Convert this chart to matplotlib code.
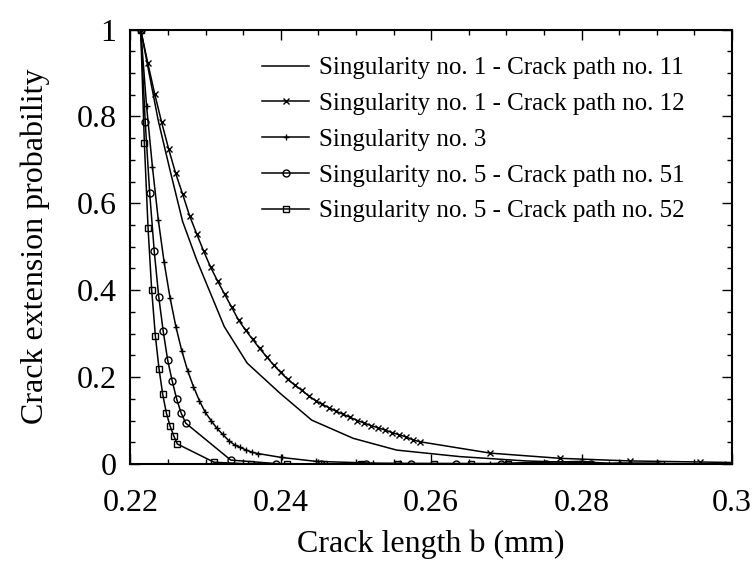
import matplotlib
matplotlib.use("Agg")
import matplotlib.pyplot as plt
from matplotlib.ticker import MultipleLocator, FormatStrFormatter

# ===================== Data =====================
# Singularity no. 1 - Crack path no. 11 (plain line)
x_11 = [0.22136, 0.2237, 0.22525, 0.22694, 0.2288, 0.23248, 0.23553, 0.23988,
        0.2441, 0.24963, 0.2554, 0.2638, 0.2726, 0.2820, 0.2913, 0.3006]
y_11 = [1.0, 0.79, 0.677, 0.558, 0.47, 0.316, 0.232, 0.163,
        0.101, 0.059, 0.032, 0.017, 0.007, 0.002, 0.0005, 0.0]

# Singularity no. 1 - Crack path no. 12 (x markers)
x_12 = [0.22136, 0.22229, 0.22322, 0.22415, 0.22508, 0.22601, 0.22694, 0.22787,
        0.22880, 0.22973, 0.23066, 0.23159, 0.23252, 0.23345, 0.23438, 0.23531,
        0.23624, 0.23717, 0.23810, 0.23903, 0.23996, 0.24089, 0.24182, 0.24275,
        0.24368, 0.24461, 0.24554, 0.24647, 0.24740, 0.24833, 0.24926, 0.25019,
        0.25112, 0.25205, 0.25298, 0.25391, 0.25484, 0.25577, 0.25670, 0.25763,
        0.25856, 0.26786, 0.27716, 0.28646, 0.29576, 0.30506]
y_12 = [1.0, 0.924, 0.852, 0.786, 0.725, 0.669, 0.621, 0.571,
        0.530, 0.490, 0.453, 0.421, 0.391, 0.361, 0.331, 0.308,
        0.287, 0.266, 0.247, 0.228, 0.211, 0.195, 0.182, 0.170,
        0.157, 0.146, 0.137, 0.129, 0.121, 0.114, 0.107, 0.100,
        0.094, 0.088, 0.083, 0.078, 0.072, 0.067, 0.062, 0.055,
        0.051, 0.025, 0.013, 0.007, 0.0046, 0.002]

# Singularity no. 3 (+ markers)
x_3 = [0.22136, 0.22214, 0.22292, 0.22370, 0.22448, 0.22526, 0.22604, 0.22682,
       0.22760, 0.22838, 0.22916, 0.22994, 0.23072, 0.23150, 0.23228, 0.23306,
       0.23384, 0.23462, 0.23540, 0.23618, 0.23696,
       0.2401, 0.2447, 0.2523, 0.2559, 0.2678, 0.2800, 0.2836, 0.2851,
       0.2902, 0.2909, 0.2991]
y_3 = [1.0, 0.824, 0.684, 0.562, 0.464, 0.383, 0.316, 0.261,
       0.215, 0.178, 0.146, 0.119, 0.100, 0.082, 0.068, 0.054,
       0.044, 0.038, 0.032, 0.027, 0.024,
       0.015, 0.006, 0.002, 0.0015, 0.001, 0.006, 0.001, 0.002,
       0.002, 0.001, 0.0]

# Singularity no. 5 - Crack path no. 51 (circles)
x_51 = [0.22136, 0.22196, 0.22256, 0.22316, 0.22376, 0.22436, 0.22495, 0.22555,
        0.22615, 0.22675, 0.22735, 0.23334, 0.23933, 0.24532, 0.25131, 0.25730,
        0.26329, 0.26928, 0.27527, 0.28126]
y_51 = [1.0, 0.788, 0.623, 0.490, 0.385, 0.305, 0.239, 0.191,
        0.149, 0.117, 0.094, 0.009, 0.001, 0.0, 0.0, 0.0,
        0.0, 0.0, 0.0, 0.0]

# Singularity no. 5 - Crack path no. 52 (squares)
x_52 = [0.22136, 0.22185, 0.22234, 0.22282, 0.22331, 0.22380, 0.22429, 0.22478,
        0.22526, 0.22575, 0.22624, 0.23112, 0.23600, 0.24088, 0.24576, 0.25064,
        0.25552, 0.26040, 0.26528, 0.27016]
y_52 = [1.0, 0.738, 0.543, 0.401, 0.295, 0.219, 0.160, 0.117,
        0.088, 0.065, 0.046, 0.004, 0.0, 0.0, 0.0, 0.0,
        0.0, 0.0, 0.0, 0.0]

labels = ["Singularity no. 1 - Crack path no. 11",
          "Singularity no. 1 - Crack path no. 12",
          "Singularity no. 3",
          "Singularity no. 5 - Crack path no. 51",
          "Singularity no. 5 - Crack path no. 52"]

# ===================== Plotting =====================
plt.rcParams.update({
    'font.family': ['Liberation Serif', 'DejaVu Serif'],
    'mathtext.fontset': 'stix',
})

fig = plt.figure(figsize=(7.55, 5.62), dpi=100)
ax = fig.add_axes([0.1728, 0.1744, 0.7967, 0.7731])

style = dict(color='black', linewidth=1.1, markersize=5, markeredgewidth=1.0,
             markerfacecolor='none')
ax.plot(x_11, y_11, label=labels[0], **style)
ax.plot(x_12, y_12, marker='x', label=labels[1], **style)
ax.plot(x_3, y_3, marker='+', label=labels[2], **style)
ax.plot(x_51, y_51, marker='o', label=labels[3], **style)
ax.plot(x_52, y_52, marker='s', label=labels[4], **style)

ax.set_xlim(0.22, 0.30)
ax.set_ylim(0, 1)

ax.xaxis.set_major_locator(MultipleLocator(0.02))
ax.xaxis.set_minor_locator(MultipleLocator(0.005))
ax.yaxis.set_major_locator(MultipleLocator(0.2))
ax.yaxis.set_minor_locator(MultipleLocator(0.05))
ax.xaxis.set_major_formatter(FormatStrFormatter('%g'))
ax.yaxis.set_major_formatter(FormatStrFormatter('%g'))

ax.tick_params(which='both', direction='in', top=True, right=True,
               labelsize=23, width=1.0)
ax.tick_params(axis='x', which='major', pad=18)
ax.tick_params(axis='y', which='major', pad=10)
ax.tick_params(which='major', length=7)
ax.tick_params(which='minor', length=3.5)
for s in ax.spines.values():
    s.set_linewidth(1.5)

ax.set_xlabel("Crack length b (mm)", fontsize=23, labelpad=8)
ax.set_ylabel("Crack extension probability", fontsize=23, labelpad=19)

ax.legend(loc='upper left', bbox_to_anchor=(0.202, 0.96), frameon=False,
          fontsize=18, handlelength=1.9, handletextpad=0.4, labelspacing=0.53,
          numpoints=1, borderaxespad=0)

fig.savefig("out.png", dpi=100)
